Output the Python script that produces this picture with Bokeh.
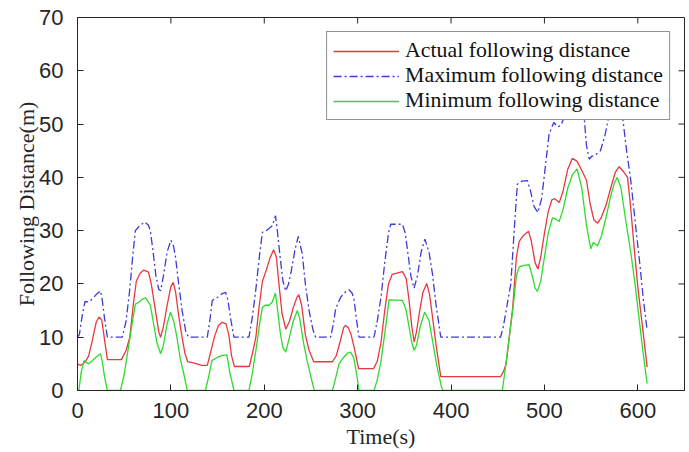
import numpy as np
from bokeh.plotting import figure
from bokeh.models import Range1d, FixedTicker, Legend, LegendItem
from bokeh.embed import file_html
from bokeh.resources import INLINE

# ---- data ----
t_actual = [0, 3, 8, 12, 16, 20, 23, 26, 29, 32, 47, 52, 56, 60, 63, 67, 71, 76, 79, 83, 87, 89,
            92, 96, 100, 102.5, 105, 108, 111, 115, 118, 126, 133, 139, 143, 147, 151, 155, 159,
            162, 165, 168, 184, 188, 191, 194, 198, 202, 206, 210, 213, 216, 219, 223, 227, 231,
            235, 237, 240, 244, 248, 253, 273, 277, 281, 285, 287, 290, 293, 297, 301, 317, 321,
            325, 329, 333, 337, 348, 352, 355, 358, 360.5, 363, 366, 370, 374, 377, 380, 384, 389,
            453, 456, 459, 462, 466, 470, 473, 477, 483, 486, 490, 493, 496, 500, 504, 508, 511,
            516, 520, 525, 530, 535, 540, 545, 549, 553, 557, 561, 566, 571, 576, 580, 585, 589,
            592, 596, 600, 605, 610]
d_actual = [5.0, 4.7, 5.3, 6.5, 9.5, 12.8, 13.8, 13.2, 9.5, 5.8, 5.8, 7.5, 10.0, 16.5, 20.5, 22.0,
            22.6, 22.2, 20.0, 15.5, 11.0, 10.0, 12.0, 16.0, 19.5, 20.3, 18.5, 14.5, 11.0, 7.0, 5.4,
            5.1, 4.7, 4.7, 7.5, 10.3, 12.2, 12.8, 12.5, 10.5, 6.5, 4.5, 4.5, 7.5, 10.0, 15.0, 20.5,
            22.5, 24.8, 26.4, 25.0, 19.5, 14.5, 11.5, 13.0, 15.5, 17.5, 18.0, 16.0, 10.5, 7.5, 5.4,
            5.4, 6.5, 9.0, 11.8, 12.2, 11.8, 10.5, 7.5, 4.1, 4.1, 5.5, 9.0, 15.0, 20.0, 21.8, 22.3,
            21.0, 17.0, 12.0, 9.1, 11.0, 14.5, 18.5, 20.1, 18.0, 14.0, 8.5, 2.6, 2.6, 3.5, 5.0,
            9.5, 15.5, 25.0, 28.0, 29.0, 29.9, 28.0, 24.0, 22.8, 25.0, 29.5, 33.5, 35.8, 36.0,
            35.3, 37.5, 41.5, 43.6, 43.0, 41.3, 39.5, 35.0, 32.0, 31.4, 32.5, 34.8, 38.0, 41.0,
            42.0, 41.0, 40.0, 35.0, 27.0, 19.4, 12.0, 4.4]

t_max = [0, 2, 5, 8, 12, 16, 20, 24.6, 26.5, 29, 32, 48, 52, 56, 59, 62, 67, 72, 76, 78, 81, 84,
         87, 89, 92, 96, 100, 103, 105, 108, 112, 116, 119, 139, 142, 144.3, 150, 155, 158.6,
         161, 164, 167.5, 183.6, 187, 191, 195, 198, 203, 208.6, 212, 214, 217, 220, 223, 226,
         229, 233, 236.4, 240.7, 244, 248, 252, 255, 271, 274, 276.4, 281.8, 287, 290.7, 294,
         296, 299, 301.4, 317.5, 321, 325, 329, 333, 335.4, 348, 351, 354, 357, 360.4, 364, 368,
         372, 376.4, 380, 384, 389, 453, 456, 460, 464, 468, 471, 476, 481.8, 485, 489, 493,
         497, 501, 505, 510, 514, 517.5, 521, 527, 533, 538, 542.5, 545, 548, 551, 553, 560,
         565, 569, 575, 580, 583.6, 588, 592.5, 597, 602, 606, 610]
d_max = [10.0, 10.5, 14.0, 16.7, 16.6, 17.2, 18.0, 18.7, 17.0, 13.5, 10.0, 10.0, 13.0, 19.0,
         25.0, 30.0, 31.0, 31.6, 31.0, 30.0, 26.0, 21.5, 19.0, 18.7, 21.5, 26.0, 28.2, 27.0,
         25.0, 20.5, 15.0, 11.0, 10.0, 10.0, 13.5, 16.9, 17.5, 18.2, 18.4, 17.0, 13.5, 10.0,
         10.0, 13.5, 19.0, 25.5, 29.7, 30.1, 30.9, 32.8, 30.0, 25.0, 20.5, 18.7, 20.0, 22.5,
         26.5, 28.9, 25.6, 20.0, 15.0, 11.5, 10.0, 10.0, 12.5, 15.3, 17.5, 18.5, 18.9, 18.3,
         17.2, 13.0, 10.0, 10.0, 13.0, 17.5, 24.0, 29.5, 31.2, 31.2, 29.5, 25.5, 21.5, 19.2,
         21.5, 26.0, 28.4, 26.0, 22.0, 16.0, 10.0, 10.0, 12.0, 16.0, 20.0, 31.0, 38.7, 39.3,
         39.4, 37.5, 34.5, 33.4, 36.0, 42.0, 48.1, 50.3, 49.5, 49.7, 51.2, 55.0, 57.0, 56.0,
         51.5, 46.0, 43.4, 44.0, 44.0, 45.0, 48.0, 51.5, 55.5, 55.0, 51.5, 45.0, 39.4, 32.0,
         24.0, 17.0, 11.3]

t_min = [0, 1.5, 4, 7, 12, 16, 20, 24.6, 26.5, 29, 32, 46, 50, 54, 58, 62, 66, 70, 73, 78, 81,
         85, 89, 92, 96, 99.6, 103, 106, 110, 114, 117.5, 137, 141, 144, 149.6, 155, 160, 163,
         167.5, 183.6, 187, 191, 195, 198, 201, 205, 208.6, 212, 214, 217, 220, 223, 227, 231,
         235.4, 238, 242, 246, 250, 253.6, 273, 276, 280, 284, 289, 292.5, 296, 299, 301.4,
         317.5, 321, 325, 330, 333.6, 348, 352, 355, 358, 360.5, 363, 367, 371.8, 376.4, 380,
         385, 390, 392, 455, 458, 462, 466, 470, 473, 478, 483.6, 487, 490, 492.5, 496, 500,
         504, 508.6, 512, 515.7, 520, 525, 530, 535, 540, 545, 549.6, 552.5, 556.8, 561, 566,
         571, 575, 578, 582, 587, 592.5, 597, 601, 605, 610]
d_min = [0.0, 0.0, 3.5, 5.6, 5.0, 5.6, 6.3, 6.9, 5.5, 2.5, 0.0, 0.0, 3.0, 7.5, 12.0, 16.2, 16.6,
         17.2, 17.4, 16.0, 13.0, 9.0, 6.9, 8.5, 12.5, 14.7, 13.0, 10.5, 6.0, 3.0, 0.0, 0.0, 3.0,
         5.6, 6.2, 6.6, 6.7, 3.5, 0.0, 0.0, 3.0, 7.5, 12.5, 15.6, 16.0, 16.0, 16.6, 18.3, 15.5,
         11.0, 8.0, 7.2, 10.0, 13.0, 15.0, 13.5, 9.0, 5.5, 2.5, 0.0, 0.0, 2.0, 5.0, 6.0, 7.0,
         7.2, 6.0, 3.0, 0.0, 0.0, 2.0, 5.5, 12.0, 17.0, 16.9, 15.0, 12.0, 9.0, 7.5, 8.5, 12.0,
         14.7, 13.1, 9.5, 4.5, 0.5, 0.0, 0.0, 4.0, 9.5, 15.0, 21.5, 23.2, 23.5, 23.6, 21.5,
         19.2, 18.6, 20.5, 25.0, 29.5, 32.4, 32.2, 31.7, 34.0, 38.0, 40.5, 41.6, 38.0, 31.0,
         26.6, 27.8, 27.1, 29.0, 32.5, 36.5, 39.0, 40.0, 38.0, 32.0, 25.9, 20.0, 14.0, 8.0, 1.3]

x_ticks = [0, 100, 200, 300, 400, 500, 600]
y_ticks = [0, 10, 20, 30, 40, 50, 60, 70]
x_max, y_max = 650, 70
labels = ["Actual following distance", "Maximum following distance", "Minimum following distance"]

AX = "#262626"
SANS = "Liberation Sans"
SERIF = "Liberation Serif"

p = figure(frame_width=607, frame_height=373, output_backend="svg", toolbar_location=None,
           x_range=Range1d(0, x_max), y_range=Range1d(0, y_max),
           min_border_left=77, min_border_right=5, min_border_top=17, min_border_bottom=62)
p.xgrid.visible = False
p.ygrid.visible = False
p.outline_line_color = AX
p.outline_line_width = 1
p.background_fill_color = "white"
p.border_fill_color = "white"

r1 = p.line(t_actual, d_actual, line_color="#E8383F", line_width=1.3)
r2 = p.line(t_max, d_max, line_color="#3B3BD6", line_width=1.3, line_dash="8 3 2 3")
r3 = p.line(t_min, d_min, line_color="#2EDB2E", line_width=1.3)

# inward tick marks on the top and right sides of the box
p.ray(x=x_ticks, y=[y_max] * len(x_ticks), length=6, length_units="screen",
      angle=-np.pi / 2, line_color=AX, line_width=1)
p.ray(x=[x_max] * len(y_ticks), y=y_ticks, length=6, length_units="screen",
      angle=np.pi, line_color=AX, line_width=1)

for ax, ticks in ((p.xaxis[0], x_ticks), (p.yaxis[0], y_ticks)):
    ax.ticker = FixedTicker(ticks=ticks)
    ax.minor_tick_line_color = None
    ax.major_tick_in = 6
    ax.major_tick_out = 0
    ax.axis_line_color = AX
    ax.major_tick_line_color = AX
    ax.major_label_text_font = SANS
    ax.major_label_text_color = AX
    ax.major_label_text_font_size = "22px"
    ax.axis_label_text_font = SERIF
    ax.axis_label_text_font_style = "normal"
    ax.axis_label_text_font_size = "22px"
    ax.axis_label_text_color = AX

p.xaxis[0].axis_label = "Time(s)"
p.yaxis[0].axis_label = "Following Distance(m)"
p.xaxis[0].major_label_standoff = 12
p.yaxis[0].major_label_standoff = 14
p.xaxis[0].axis_label_standoff = 3
p.yaxis[0].axis_label_standoff = -3

legend = Legend(items=[LegendItem(label=labels[0], renderers=[r1]),
                       LegendItem(label=labels[1], renderers=[r2]),
                       LegendItem(label=labels[2], renderers=[r3])],
                location="top_right", margin=14, padding=6, spacing=0,
                glyph_width=66, glyph_height=24, label_height=24, label_standoff=6,
                label_text_font=SERIF, label_text_font_size="21.8px", label_text_color="#111111",
                border_line_color=AX, border_line_width=1, background_fill_color="white",
                background_fill_alpha=1.0)
p.add_layout(legend, "center")

open("out.html", "w").write(file_html(p, INLINE))
